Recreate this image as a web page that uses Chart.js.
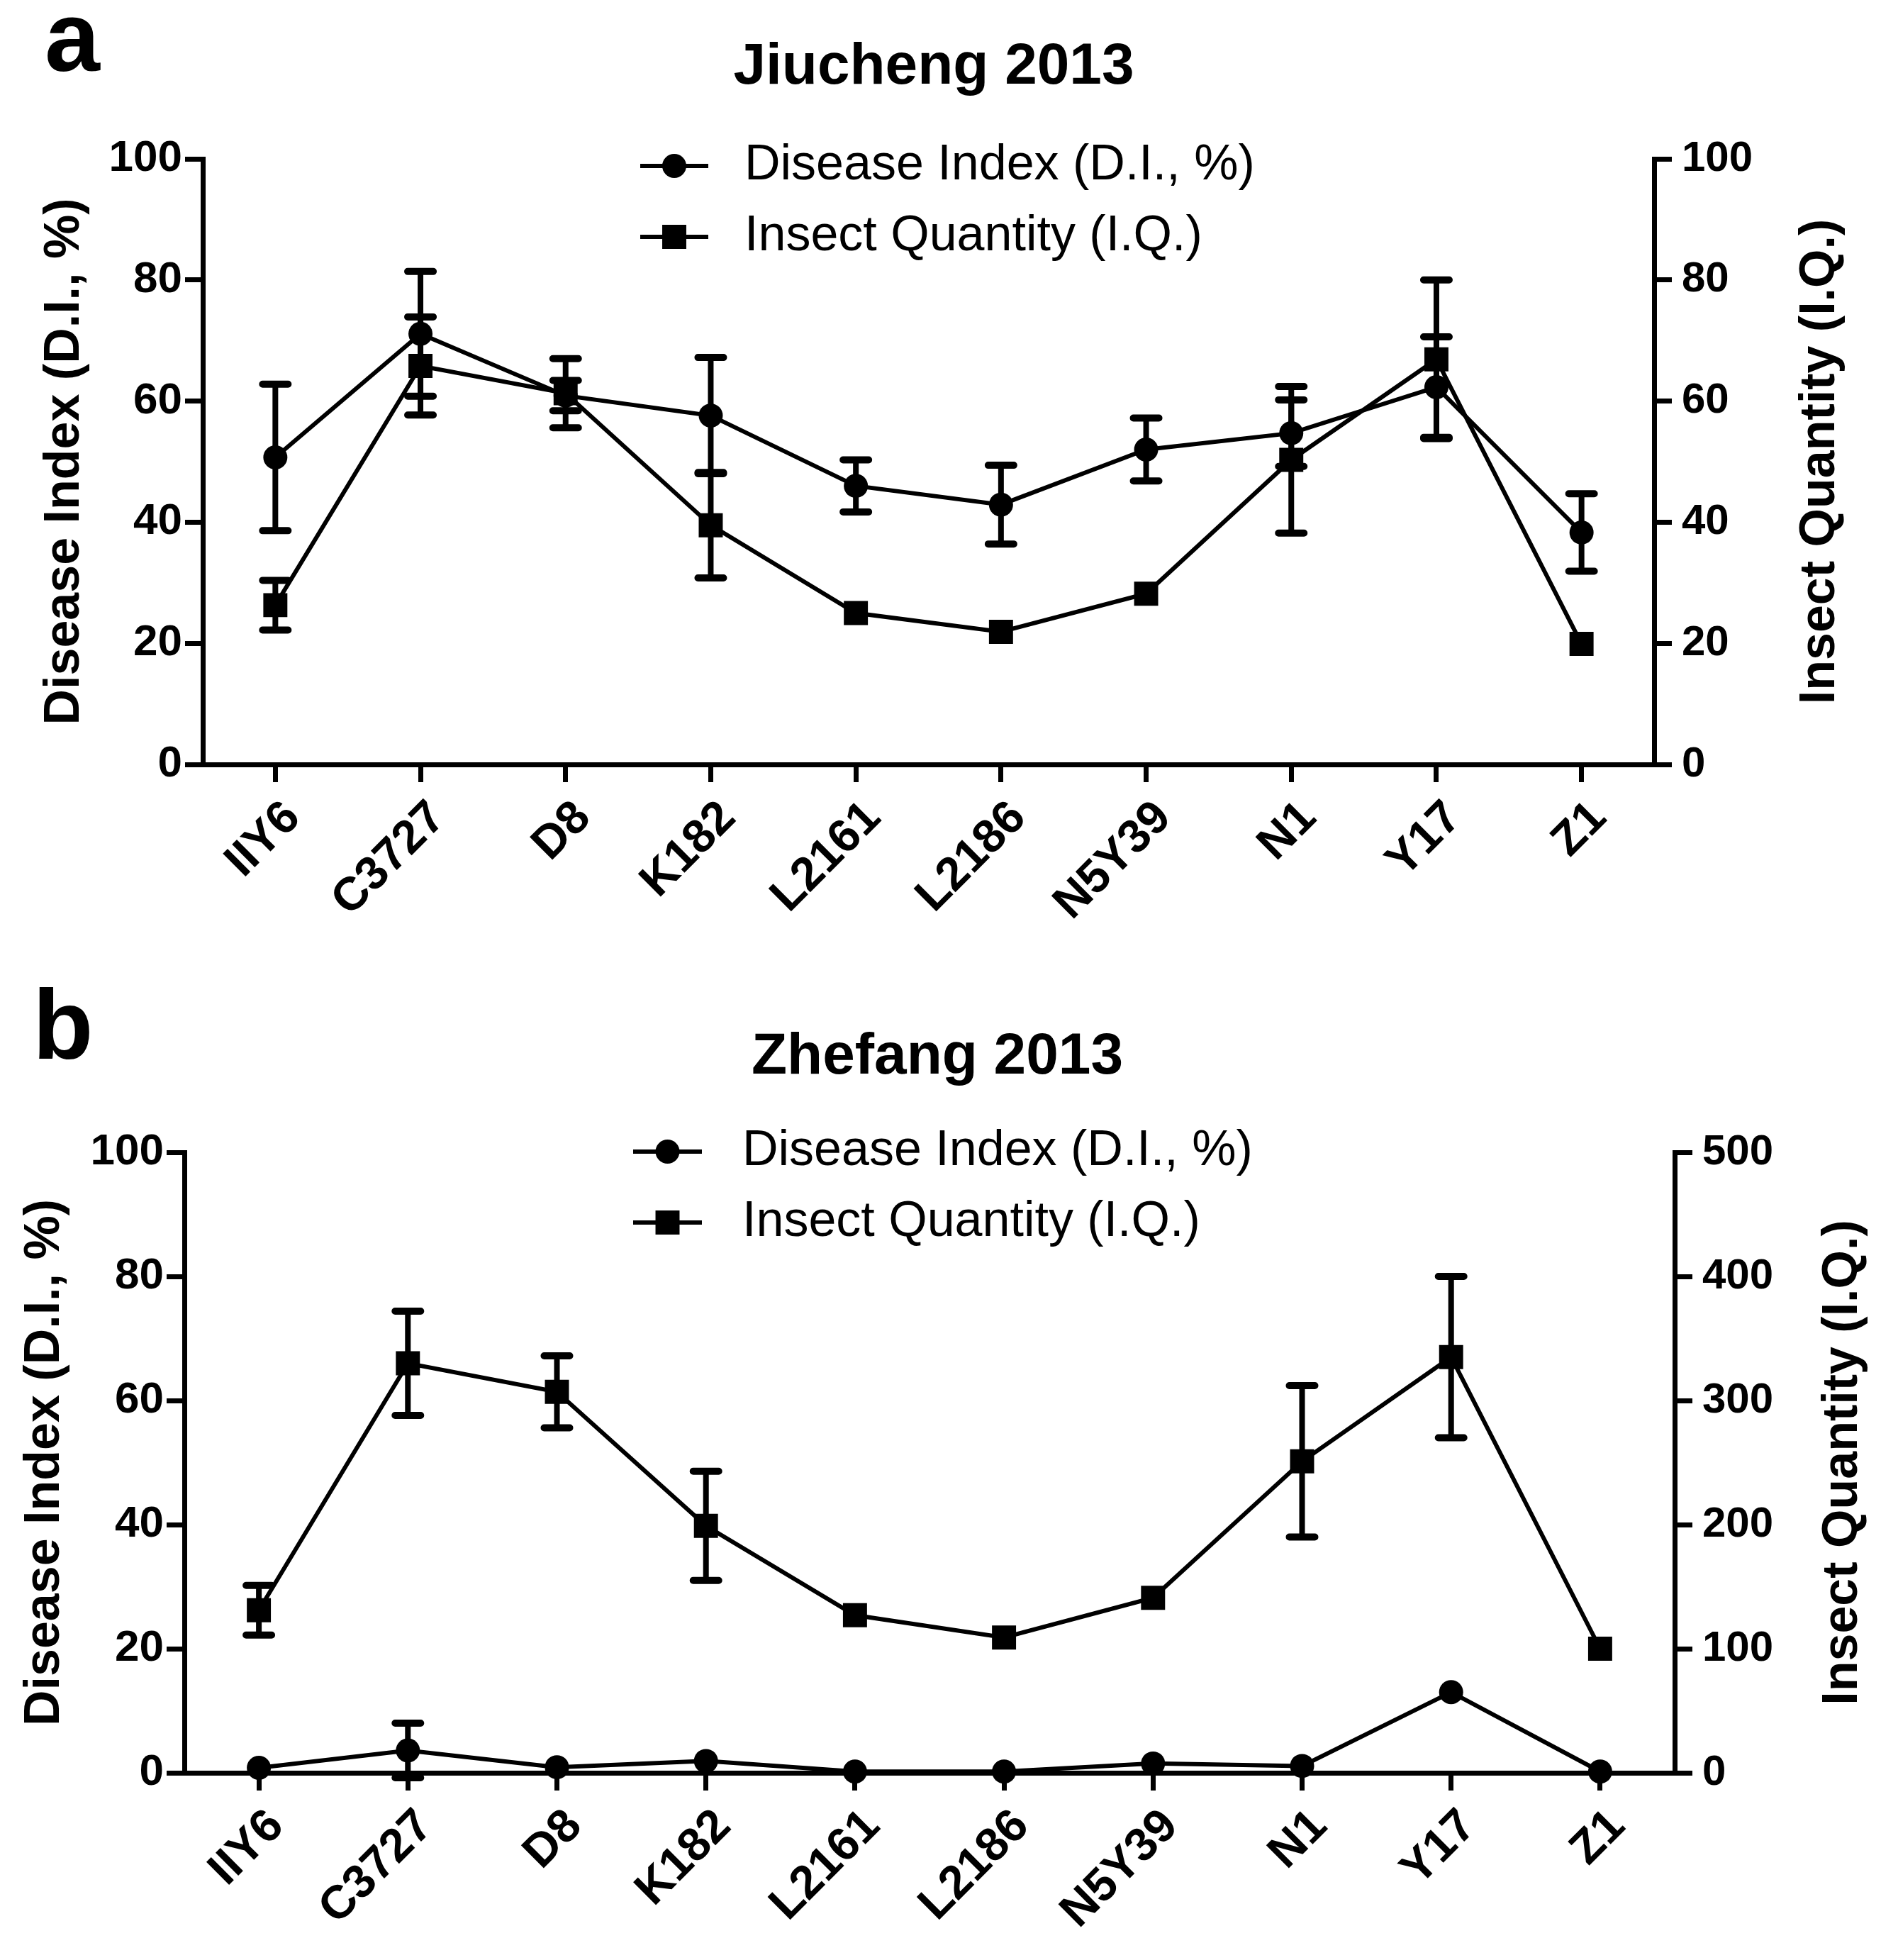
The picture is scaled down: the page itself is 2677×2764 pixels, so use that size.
<!DOCTYPE html>
<html>
<head>
<meta charset="utf-8">
<script src="https://cdn.jsdelivr.net/npm/chart.js@4.4.1/dist/chart.umd.min.js"></script>
<style>
html,body{margin:0;padding:0;background:#fff;}
canvas{display:block;}
</style>
</head>
<body>
<canvas id="chartA" width="2677" height="1382"></canvas>
<canvas id="chartB" width="2677" height="1382"></canvas>
<script>
// ---------- DATA ----------
const categories = ['IIY6', 'C3727', 'D8', 'K182', 'L2161', 'L2186', 'N5Y39', 'N1', 'Y17', 'Z1'];
const seriesLabels = ['Disease Index (D.I., %)', 'Insect Quantity (I.Q.)'];
const panelTitles = ['Jiucheng 2013', 'Zhefang 2013'];
const panelLetters = ['a', 'b'];
const leftAxisTitle = 'Disease Index (D.I., %)';
const rightAxisTitle = 'Insect Quantity (I.Q.)';

// Panel a: Jiucheng 2013
const jiuchengDI    = [50.7, 71.1, 60.9, 57.6, 46.0, 42.9, 52.0, 54.7, 62.3, 38.3];
const jiuchengDIErr = [12.1, 10.3, 2.5, 9.6, 4.3, 6.5, 5.2, 5.5, 8.3, 6.4];
const jiuchengIQ    = [26.3, 65.8, 61.3, 39.5, 25.0, 21.9, 28.2, 50.3, 66.9, 19.9];
const jiuchengIQErr = [4.1, 8.1, 5.7, 8.7, 1.8, 0.8, 0.8, 12.1, 13.1, 0.5];

// Panel b: Zhefang 2013
const zhefangDI    = [0.8, 3.6, 0.9, 1.9, 0.2, 0.2, 1.5, 1.1, 13.0, 0.2];
const zhefangDIErr = [0.5, 4.4, 0.6, 0.6, 0.3, 0.3, 0.6, 0.6, 0.9, 0.3];
const zhefangIQ    = [131, 330, 307, 199, 127, 109, 141, 251, 335, 100];
const zhefangIQErr = [20, 42, 29, 44, 10, 5, 5, 61, 65, 3];

// Tick values
const leftTicks   = [0, 20, 40, 60, 80, 100];
const rightTicksA = [0, 20, 40, 60, 80, 100];
const rightTicksB = [0, 100, 200, 300, 400, 500];

// ---------- STYLE ----------
const FONT = '"Liberation Sans", Arial, Helvetica, sans-serif';

const errorBarPlugin = {
  id: 'errorBars',
  beforeDatasetsDraw(chart) {
    const ctx = chart.ctx;
    chart.data.datasets.forEach((ds, i) => {
      const meta = chart.getDatasetMeta(i);
      const ys = chart.scales[ds.yAxisID];
      ctx.save();
      ctx.strokeStyle = '#000';
      ctx.lineCap = 'round';
      meta.data.forEach((pt, j) => {
        const v = ds.data[j], e = ds.errors[j];
        if (!e) return;
        const yT = ys.getPixelForValue(v + e);
        const yB = ys.getPixelForValue(v - e);
        if ((yB - yT) / 2 <= ds.pointRadius * 0.75) return;
        ctx.lineWidth = 8;
        ctx.beginPath();
        ctx.moveTo(pt.x, yT); ctx.lineTo(pt.x, yB);
        ctx.stroke();
        ctx.lineWidth = 10;
        ctx.beginPath();
        ctx.moveTo(pt.x - 18, yT); ctx.lineTo(pt.x + 18, yT);
        ctx.moveTo(pt.x - 18, yB); ctx.lineTo(pt.x + 18, yB);
        ctx.stroke();
      });
      ctx.restore();
    });
  }
};

const decorPlugin = {
  id: 'decor',
  afterDraw(chart, args, o) {
    const ctx = chart.ctx, ca = chart.chartArea;
    ctx.save();
    ctx.fillStyle = '#000';
    ctx.strokeStyle = '#000';
    // panel letter
    ctx.font = 'bold 140px ' + FONT;
    ctx.textAlign = 'left';
    ctx.textBaseline = 'alphabetic';
    ctx.fillText(o.letter, o.letterX, o.letterY);
    // right axis title (reads bottom to top)
    ctx.save();
    ctx.translate(ca.right + o.rightTitleOffset, (ca.top + ca.bottom) / 2);
    ctx.rotate(-Math.PI / 2);
    ctx.font = 'bold 70px ' + FONT;
    ctx.textAlign = 'center';
    ctx.textBaseline = 'middle';
    ctx.fillText(o.rightTitle, 0, 0);
    ctx.restore();
    // legend
    chart.data.datasets.forEach((ds, i) => {
      const y = o.legendRows[i];
      const x0 = o.legendX0, x1 = o.legendX1, xm = (x0 + x1) / 2;
      ctx.lineWidth = 6;
      ctx.beginPath(); ctx.moveTo(x0, y); ctx.lineTo(x1, y); ctx.stroke();
      ctx.beginPath();
      if (ds.pointStyle === 'rect') {
        const s = ds.pointRadius * Math.SQRT1_2;
        ctx.rect(xm - s, y - s, 2 * s, 2 * s);
      } else {
        ctx.arc(xm, y, ds.pointRadius, 0, Math.PI * 2);
      }
      ctx.fill();
      ctx.font = '70px ' + FONT;
      ctx.textAlign = 'left';
      ctx.textBaseline = 'middle';
      ctx.fillText(ds.label, o.legendTextX, y);
    });
    ctx.restore();
  }
};

function makeChart(id, cfg) {
  const datasets = [
    {
      label: seriesLabels[0], data: cfg.di, errors: cfg.diErr, yAxisID: 'y',
      borderColor: '#000', backgroundColor: '#000', borderWidth: 6, tension: 0,
      pointStyle: 'circle', pointRadius: 17, pointBackgroundColor: '#000',
      pointBorderWidth: 0, clip: false
    },
    {
      label: seriesLabels[1], data: cfg.iq, errors: cfg.iqErr, yAxisID: 'y1',
      borderColor: '#000', backgroundColor: '#000', borderWidth: 6, tension: 0,
      pointStyle: 'rect', pointRadius: 24, pointBackgroundColor: '#000',
      pointBorderWidth: 0, clip: false
    }
  ];
  const axisCommon = {
    grid: { drawOnChartArea: false, drawTicks: true, tickLength: 25, lineWidth: 7, color: '#000', tickColor: '#000' },
    border: { display: true, width: 7, color: '#000' }
  };
  return new Chart(document.getElementById(id), {
    type: 'line',
    data: { labels: categories, datasets },
    options: {
      responsive: false,
      devicePixelRatio: 1,
      animation: false,
      events: [],
      layout: { padding: { left: 0, right: cfg.padRight, top: 0, bottom: 0 } },
      plugins: {
        legend: { display: false },
        tooltip: { enabled: false },
        title: {
          display: true, text: cfg.title, color: '#000',
          font: { family: FONT, size: 82, weight: 'bold', lineHeight: 1.2 },
          padding: { top: cfg.titleTop, bottom: cfg.titleBottom }
        },
        decor: {
          letter: cfg.letter, letterX: cfg.letterX, letterY: cfg.letterY,
          rightTitle: rightAxisTitle, rightTitleOffset: cfg.rightTitleOffset,
          legendRows: cfg.legendRows, legendX0: cfg.legendX0, legendX1: cfg.legendX1,
          legendTextX: cfg.legendTextX
        }
      },
      scales: {
        x: {
          type: 'category', offset: true,
          grid: Object.assign({}, axisCommon.grid, { offset: false }),
          border: axisCommon.border,
          ticks: {
            color: '#000', autoSkip: false, maxRotation: 45, minRotation: 45,
            padding: 12, labelOffset: 25,
            font: { family: FONT, size: 66, weight: 'bold' }
          },
          afterFit: s => { s.height = cfg.xHeight; }
        },
        y: {
          position: 'left',
          min: leftTicks[0], max: leftTicks[leftTicks.length - 1],
          grid: axisCommon.grid, border: axisCommon.border,
          ticks: {
            color: '#000', stepSize: leftTicks[1] - leftTicks[0], padding: 4,
            font: { family: FONT, size: 62, weight: 'bold' }
          },
          title: {
            display: true, text: leftAxisTitle, color: '#000',
            font: { family: FONT, size: 70, weight: 'bold', lineHeight: 1.2 },
            padding: { top: cfg.leftTitlePad, bottom: 0 }
          },
          afterFit: s => { s.width = cfg.leftWidth; }
        },
        y1: {
          position: 'right',
          min: cfg.rightTicks[0], max: cfg.rightTicks[cfg.rightTicks.length - 1],
          grid: axisCommon.grid, border: axisCommon.border,
          ticks: {
            color: '#000', stepSize: cfg.rightTicks[1] - cfg.rightTicks[0], padding: 14,
            font: { family: FONT, size: 60, weight: 'bold' }
          },
          afterFit: s => { s.width = cfg.rightWidth; }
        }
      }
    },
    plugins: [errorBarPlugin, decorPlugin]
  });
}

makeChart('chartA', {
  title: panelTitles[0], letter: panelLetters[0], letterX: 63, letterY: 100,
  di: jiuchengDI, diErr: jiuchengDIErr, iq: jiuchengIQ, iqErr: jiuchengIQErr,
  rightTicks: rightTicksA,
  padRight: 43, leftWidth: 286, rightWidth: 301, xHeight: 304,
  titleTop: 46, titleBottom: 79.6, leftTitlePad: 50, rightTitleOffset: 235,
  legendRows: [234, 334], legendX0: 903, legendX1: 999, legendTextX: 1050
});

makeChart('chartB', {
  title: panelTitles[1], letter: panelLetters[1], letterX: 46, letterY: 111,
  di: zhefangDI, diErr: zhefangDIErr, iq: zhefangIQ, iqErr: zhefangIQErr,
  rightTicks: rightTicksB,
  padRight: 33, leftWidth: 260, rightWidth: 282, xHeight: 264,
  titleTop: 60, titleBottom: 84.6, leftTitlePad: 22, rightTitleOffset: 238,
  legendRows: [242, 342], legendX0: 893, legendX1: 990, legendTextX: 1047
});
</script>
</body>
</html>
